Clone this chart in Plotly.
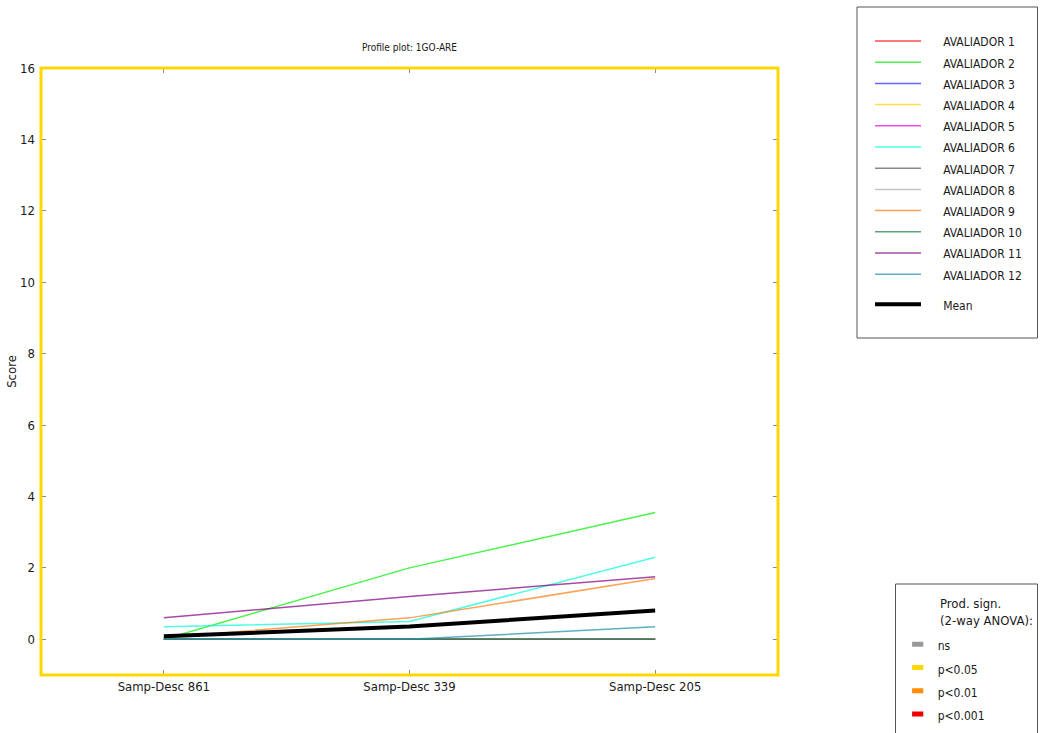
import plotly.graph_objects as go

samples = ["Samp-Desc 861", "Samp-Desc 339", "Samp-Desc 205"]
assessors = [f"AVALIADOR {i}" for i in range(1, 13)]
scores = {
    "AVALIADOR 1": [0.0, 0.0, 0.0],
    "AVALIADOR 2": [0.0, 2.0, 3.55],
    "AVALIADOR 3": [0.0, 0.0, 0.0],
    "AVALIADOR 4": [0.0, 0.0, 0.0],
    "AVALIADOR 5": [0.0, 0.0, 0.0],
    "AVALIADOR 6": [0.35, 0.5, 2.3],
    "AVALIADOR 7": [0.0, 0.0, 0.0],
    "AVALIADOR 8": [0.0, 0.0, 0.0],
    "AVALIADOR 9": [0.05, 0.6, 1.7],
    "AVALIADOR 10": [0.0, 0.0, 0.0],
    "AVALIADOR 11": [0.6, 1.2, 1.75],
    "AVALIADOR 12": [0.0, 0.0, 0.35],
}
colors = ["#ff0000", "#00ee00", "#2222ff", "#ffd000", "#e000f0", "#00ffd8",
          "#555555", "#aaaaaa", "#ff7a10", "#1a7a3a", "#800080", "#1890a8"]
sig_labels = ["ns", "p<0.05", "p<0.01", "p<0.001"]
sig_colors = ["#999999", "#ffd700", "#ff8c00", "#ee0000"]
y_ticks = list(range(0, 17, 2))

FONT = "DejaVu Sans Condensed, Liberation Sans Narrow, DejaVu Sans, sans-serif"
PAD = "\u00a0" * 5

mean = [sum(scores[a][i] for a in assessors) / len(assessors) for i in range(len(samples))]

fig = go.Figure()
xs = list(range(len(samples)))
for a, c in zip(assessors, colors):
    fig.add_trace(go.Scatter(
        x=xs, y=scores[a], mode="lines", name=f'<span style="font-size:12px">{PAD}{a}</span>',
        line=dict(color=c, width=1.5), opacity=0.7, legend="legend", legendgroup="a"))
fig.add_trace(go.Scatter(
    x=xs, y=mean, mode="lines", name=f'<span style="font-size:12px">{PAD}Mean</span>',
    line=dict(color="black", width=4), legend="legend", legendgroup="b"))

for lab, c in zip(sig_labels, sig_colors):
    fig.add_trace(go.Scatter(
        x=[None], y=[None], mode="markers", name=f'<span style="font-size:12px">{lab}</span>',
        marker=dict(symbol="line-ew", size=8, line=dict(color=c, width=5), color=c),
        legend="legend2"))

W, H = 1040, 733
L, R, T, B = 41, 262, 68, 58
pw, ph = W - L - R, H - T - B

def px(x):
    return (x - L) / pw

def py(y):
    return (H - B - y) / ph

shapes = [
    dict(type="rect", xref="paper", yref="paper", x0=0, x1=1, y0=0, y1=1,
         line=dict(color="#ffd700", width=3), layer="above"),
    dict(type="rect", xref="paper", yref="paper", x0=px(857), x1=px(1037.5),
         y0=py(338), y1=py(7), line=dict(color="#555555", width=1)),
    dict(type="rect", xref="paper", yref="paper", x0=px(895.5), x1=px(1037.5),
         y0=py(745), y1=py(584), line=dict(color="#555555", width=1)),
]

fig.update_layout(
    width=W, height=H,
    margin=dict(l=L, r=R, t=T, b=B, autoexpand=False),
    paper_bgcolor="white", plot_bgcolor="white",
    font=dict(family=FONT, size=13, color="#1a1a1a"),
    showlegend=True,
    title=dict(text="Profile plot: 1GO-ARE", font=dict(size=10, family=FONT, color="#1a1a1a"),
               x=0.5, xref="paper", xanchor="center", y=1 - 47.5 / H, yref="container",
               yanchor="middle"),
    xaxis=dict(range=[-0.5, 2.5], tickmode="array", tickvals=xs, ticktext=samples,
               showgrid=False, zeroline=False, showline=False, automargin=False,
               ticks="inside", ticklen=5, tickwidth=1, tickcolor="#888888", mirror="ticks",
               tickfont=dict(size=13), ticklabelstandoff=2),
    yaxis=dict(range=[-1, 16], tickmode="array", tickvals=y_ticks,
               showgrid=False, zeroline=False, showline=False, automargin=False,
               ticks="inside", ticklen=5, tickwidth=1, tickcolor="#888888", mirror="ticks",
               tickfont=dict(size=13), ticklabelstandoff=5,
               title=dict(text="Score", font=dict(size=13), standoff=0)),
    legend=dict(x=870 / W, y=1 - 25.4 / H, xref="container", yref="container",
                xanchor="left", yanchor="top", bgcolor="rgba(0,0,0,0)", borderwidth=0,
                font=dict(size=14, family=FONT, color="#1a1a1a"),
                traceorder="grouped", tracegroupgap=8.8, itemwidth=46),
    legend2=dict(x=897.7 / W, y=1 - 627.5 / H, xref="container", yref="container",
                 xanchor="left", yanchor="top", bgcolor="rgba(0,0,0,0)", borderwidth=0,
                 font=dict(size=15.6, family=FONT, color="#1a1a1a")),
    shapes=shapes,
    annotations=[dict(text="Prod. sign.<br>(2-way ANOVA):", xref="paper", yref="paper",
                      x=px(938), y=py(611.5), xanchor="left", yanchor="middle",
                      align="left", showarrow=False,
                      font=dict(size=13, family=FONT, color="#1a1a1a"))],
)

fig.write_html("out.html")
